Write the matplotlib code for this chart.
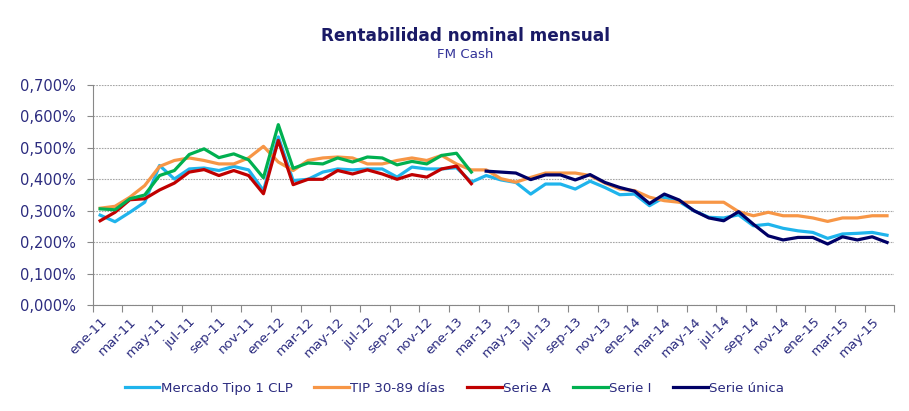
import numpy as np
import matplotlib.pyplot as plt
from matplotlib.ticker import FuncFormatter, FixedLocator

# meses ene-11 .. jun-15
meses = ["ene", "feb", "mar", "abr", "may", "jun", "jul", "ago", "sep", "oct", "nov", "dic"]
fechas = [f"{meses[m]}-{a}" for a in range(11, 16) for m in range(12)][:54]

# valores en %
mercado = [0.286, 0.265, 0.295, 0.327, 0.444, 0.401, 0.433, 0.436, 0.428, 0.441,
           0.430, 0.364, 0.535, 0.396, 0.400, 0.423, 0.433, 0.430, 0.433, 0.433,
           0.407, 0.439, 0.433, 0.433, 0.437, 0.391, 0.412, 0.398, 0.390, 0.353,
           0.385, 0.385, 0.369, 0.394, 0.374, 0.351, 0.353, 0.316, 0.343, 0.329,
           0.300, 0.279, 0.277, 0.287, 0.252, 0.257, 0.244, 0.236, 0.231, 0.212,
           0.226, 0.228, 0.231, 0.222]
tip = [0.308, 0.314, 0.343, 0.380, 0.441, 0.460, 0.468, 0.460, 0.449, 0.449,
       0.468, 0.505, 0.455, 0.428, 0.460, 0.468, 0.471, 0.468, 0.449, 0.449,
       0.460, 0.468, 0.460, 0.476, 0.449, 0.430, 0.430, 0.402, 0.391, 0.406,
       0.420, 0.420, 0.420, 0.412, 0.388, 0.369, 0.364, 0.343, 0.332, 0.327,
       0.327, 0.327, 0.327, 0.297, 0.284, 0.295, 0.284, 0.284, 0.277, 0.266,
       0.277, 0.277, 0.284, 0.284]
serie_a = [0.268, 0.295, 0.335, 0.338, 0.366, 0.388, 0.423, 0.431, 0.412, 0.428,
           0.412, 0.354, 0.524, 0.383, 0.400, 0.400, 0.428, 0.417, 0.430, 0.417,
           0.400, 0.415, 0.407, 0.433, 0.442, 0.386] + [np.nan] * 28
serie_i = [0.306, 0.303, 0.338, 0.350, 0.412, 0.428, 0.479, 0.497, 0.469, 0.481,
           0.462, 0.405, 0.574, 0.435, 0.452, 0.449, 0.468, 0.455, 0.471, 0.468,
           0.446, 0.457, 0.449, 0.476, 0.483, 0.423] + [np.nan] * 28
serie_unica = [np.nan] * 26 + [
    0.426, 0.423, 0.420, 0.399, 0.414, 0.414, 0.398, 0.415, 0.390, 0.374,
    0.362, 0.323, 0.353, 0.334, 0.300, 0.277, 0.268, 0.297, 0.257, 0.220,
    0.207, 0.215, 0.215, 0.194, 0.217, 0.207, 0.217, 0.199]

azul_txt = "#2B2B7F"
x = np.arange(len(fechas))

fig = plt.figure(figsize=(9.09, 4.11), dpi=100)
ax = fig.add_axes([0.102, 0.258, 0.882, 0.535])

lw = 2.3
ax.plot(x, mercado, color="#1FB4EC", lw=lw, label="Mercado Tipo 1 CLP")
ax.plot(x, tip, color="#F79646", lw=lw, label="TIP 30-89 días")
ax.plot(x, serie_a, color="#C00000", lw=lw, label="Serie A")
ax.plot(x, serie_i, color="#00B050", lw=lw, label="Serie I")
ax.plot(x, serie_unica, color="#000066", lw=lw, label="Serie única")

ax.set_xlim(-0.5, len(fechas) - 0.5)
ax.set_ylim(0, 0.7)
ax.set_yticks(np.arange(0, 0.71, 0.1))
ax.yaxis.set_major_formatter(FuncFormatter(lambda v, p: f"{v:.3f}%".replace(".", ",")))
ax.grid(axis="y", color="#A6A6A6", linestyle=(0, (1.5, 1)), linewidth=0.8)
ax.set_axisbelow(True)

# marcas cada dos meses, etiquetas en el centro de la categoría
ax.xaxis.set_major_locator(FixedLocator(np.arange(-0.5, len(fechas), 2)))
ax.xaxis.set_major_formatter(plt.NullFormatter())
ax.set_xticks(x[::2], minor=True)
ax.set_xticklabels(fechas[::2], minor=True, rotation=45, ha="right",
                   rotation_mode="anchor", color=azul_txt, fontsize=9.6)
ax.tick_params(axis="x", which="minor", length=0, pad=7)
ax.tick_params(axis="x", which="major", length=5, color="#888888", direction="out")
ax.tick_params(axis="y", length=4, color="#888888", labelcolor=azul_txt,
               labelsize=10.5, pad=8)

for s in ["top", "right"]:
    ax.spines[s].set_visible(False)
for s in ["left", "bottom"]:
    ax.spines[s].set_color("#888888")

fig.text(0.512, 0.9, "Rentabilidad nominal mensual", ha="center",
         fontsize=12.2, fontweight="bold", color="#1A1A66")
fig.text(0.512, 0.858, "FM Cash", ha="center", fontsize=9.6, color="#333399")

leg = fig.legend(loc="center", bbox_to_anchor=(0.5, 0.055), ncol=5, frameon=False,
                 fontsize=9.6, handlelength=2.6, handletextpad=0.1, columnspacing=1.65)
for t in leg.get_texts():
    t.set_color(azul_txt)

fig.savefig("out.png", dpi=100)
